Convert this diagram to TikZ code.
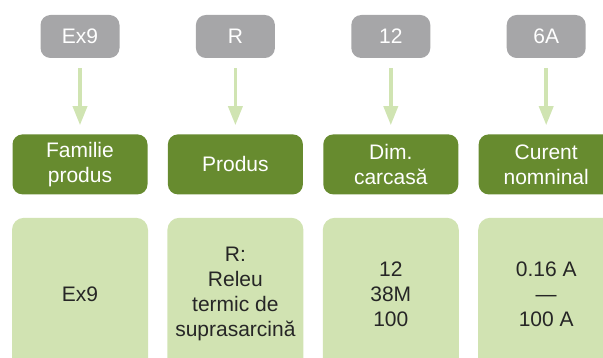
\documentclass[tikz,border=0pt]{standalone}
\usepackage{fontspec}
\setmainfont{Liberation Sans}
\usetikzlibrary{arrows.meta,positioning}
\definecolor{codegray}{RGB}{166,166,168}
\definecolor{fielddark}{RGB}{103,139,47}
\definecolor{valuelight}{RGB}{209,227,178}
\definecolor{linkgreen}{RGB}{208,228,178}
\definecolor{valuetext}{RGB}{38,38,38}
\begin{document}
\begin{tikzpicture}[x=1pt, y=1pt,
		code/.style={fill=codegray, text=white, rounded corners=10pt, inner sep=0pt, minimum width=79pt, minimum height=43pt, font=\fontsize{21pt}{25pt}\selectfont},
		field/.style={fill=fielddark, text=white, rounded corners=10pt, inner sep=0pt, align=center, minimum width=135pt, minimum height=60pt, font=\fontsize{21pt}{25pt}\selectfont},
		value/.style={fill=valuelight, text=valuetext, rounded corners=12pt, inner sep=0pt, align=center, minimum width=136pt, minimum height=152pt, font=\fontsize{21pt}{25pt}\selectfont},
		link/.style={draw=linkgreen, line width=3.5pt, shorten <=10pt, shorten >=9pt, -{Triangle[width=14pt, length=19pt]}},
	]
		\useasboundingbox (0,0) rectangle (603,-358);
		\clip (0,0) rectangle (603,-358);
		\node (cfam) [code] at (80,-36.5) {Ex9};
		\node (cprod) [code, right=76pt of cfam] {R};
		\node (cdim) [code, right=76pt of cprod] {12};
		\node (ccur) [code, right=76pt of cdim] {6A};
		
		\node (ffam) [field, below=76pt of cfam] {Familie\\produs};
		\node (fprod) [field, right=20pt of ffam] {Produs};
		\node (fdim) [field, right=20pt of fprod] {Dim.\\carcasă};
		\node (fcur) [field, right=20pt of fdim] {Curent\\nomninal};
		
		\node (vfam) [value, below=23pt of ffam] {Ex9};
		\node (vprod) [value, right=19pt of vfam] {R:\\Releu\\termic de\\suprasarcină};
		\node (vdim) [value, right=19pt of vprod] {12\\38M\\100};
		\node (vcur) [value, right=19pt of vdim] {0.16 A\\—\\100 A};
		
		\draw[link] (cfam) -- (ffam);
		\draw[link] (cprod) -- (fprod);
		\draw[link] (cdim) -- (fdim);
		\draw[link] (ccur) -- (fcur);
	\end{tikzpicture}
\end{document}
